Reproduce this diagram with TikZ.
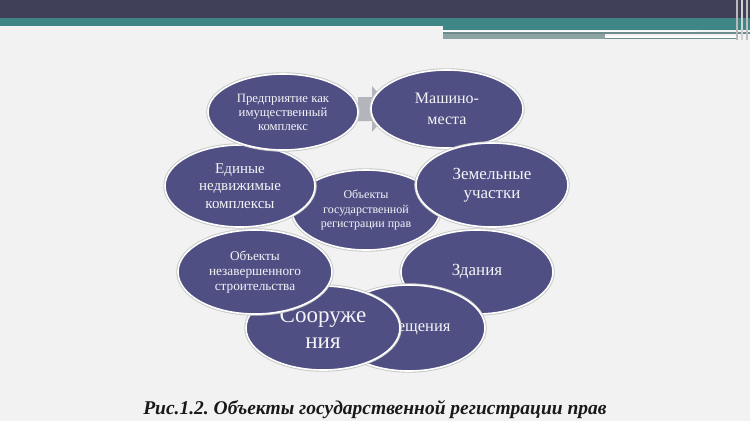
\documentclass[tikz,border=0pt]{standalone}
\usepackage{fontspec}
\setmainfont{Liberation Serif}
\usetikzlibrary{shapes.geometric}
\frenchspacing
\definecolor{bgc}{HTML}{F2F2F2}
\definecolor{ellfill}{HTML}{4F4F84}
\definecolor{hdark}{HTML}{404058}
\definecolor{hteal}{HTML}{3F8686}
\definecolor{hgray}{HTML}{6F8C8C}
\definecolor{chev}{HTML}{B4B4BC}
\definecolor{txtc}{HTML}{F4F4F8}
\begin{document}
\begin{tikzpicture}[x=1pt,y=-1pt,
  ell/.style={ellipse, fill=ellfill, draw=white, line width=1.6pt,
    preaction={draw=black!22, line width=3.4pt},
    inner sep=0pt, text=txtc, align=center},
  fs/.style n args={2}{font=\fontsize{#1}{#2}\selectfont}]
% background
\fill[bgc] (0,0) rectangle (750,421);
\useasboundingbox (0,0) rectangle (750,421);
% header
\fill[hdark] (0,0) rectangle (750,17.5);
\fill[hteal] (0,17.5) rectangle (750,25.5);
\fill[hteal] (443,25.5) rectangle (750,30);
\fill[white] (443,30.5) rectangle (697,32);
\fill[hgray] (443,32) rectangle (750,34);
\fill[hgray!80] (443,34) rectangle (605,39);
\fill[white] (605,36) rectangle (737,37.5);
\fill[hgray] (605,37.5) rectangle (737,39);
\fill[gray!55] (736,0) rectangle (738,40);
\fill[gray!35] (741,0) rectangle (743,40);
\fill[gray!50] (746,0) rectangle (748,40);
% chevron
\fill[chev] (358,97) -- (372,97) -- (372,86) -- (392,109) -- (372,132) -- (372,121) -- (358,121) -- cycle;
% ellipses
\node[ell, minimum width=148pt, minimum height=80pt, fs={12}{14.5}] (center) at (366,210)
  {Объекты\\государственной\\регистрации прав};
\node[ell, minimum width=152pt, minimum height=78pt, fs={16}{20.5}] (mash) at (447,109)
  {Машино-\\места};
\node[ell, minimum width=152pt, minimum height=84pt, fs={17}{19.5}] (zem) at (492,185)
  {Земельные\\участки};
\node[ell, minimum width=152pt, minimum height=84pt, fs={17}{20}] (zd) at (477,272)
  {Здания};
\node[ell, minimum width=152pt, minimum height=86pt, fs={16.5}{20}] (pom) at (409,328)
  {Помещения};
\node[ell, minimum width=154pt, minimum height=84pt, fs={23}{26}] (soor) at (323,328)
  {Сооруже\\ния};
\node[ell, minimum width=154pt, minimum height=84pt, fs={13.3}{15}] (ons) at (255,272)
  {Объекты\\незавершенного\\строительства};
\node[ell, minimum width=150pt, minimum height=82pt, fs={15}{17.5}] (enk) at (240,186)
  {Единые\\недвижимые\\комплексы};
\node[ell, minimum width=150pt, minimum height=76pt, fs={12.7}{14}] (pred) at (283,112)
  {Предприятие как\\имущественный\\комплекс};
% caption
\node[font=\fontsize{19.5}{22}\selectfont\bfseries\itshape, text=black!90, inner sep=0pt] (cap) at (375,410)
  {Рис.1.2. Объекты государственной регистрации прав};
\end{tikzpicture}
\end{document}
